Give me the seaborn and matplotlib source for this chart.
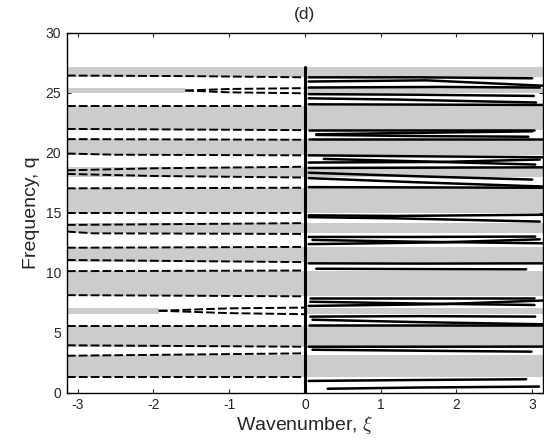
import numpy as np
import pandas as pd
import matplotlib
matplotlib.use("Agg")
import matplotlib.pyplot as plt
import seaborn as sns

PI = np.pi

# Stop bands (shaded over the full wavenumber range)
stop_lo = [26.35, 21.95, 19.85, 18.00, 15.00, 13.30, 10.90, 8.05, 3.85, 1.30]
stop_hi = [27.20, 23.95, 21.15, 18.80, 17.05, 14.15, 12.15, 10.20, 5.60, 3.20]

# Narrow bands shaded on the right half and on the left only up to a cut-off wavenumber
strip_lo = [24.97, 6.56]
strip_hi = [25.40, 7.11]
strip_xi_end = [-1.58, -1.93]

# Imaginary branches (left half, dashed): (xi, q) control points
dashed_curves = [
    [(-PI, 26.45), (-1.5, 26.40), (0.0, 26.30)],
    [(-1.58, 25.20), (-1.0, 25.33), (0.0, 25.40)],
    [(-1.58, 25.20), (-1.0, 25.05), (0.0, 24.97)],
    [(-PI, 23.95), (0.0, 23.95)],
    [(-PI, 22.00), (0.0, 21.90)],
    [(-PI, 21.15), (0.0, 21.10)],
    [(-PI, 19.95), (-2.5, 19.85), (0.0, 19.80)],
    [(-PI, 18.55), (-2.0, 18.72), (0.0, 18.85)],
    [(-PI, 18.25), (-2.0, 18.08), (0.0, 17.95)],
    [(-PI, 17.05), (0.0, 17.10)],
    [(-PI, 14.96), (0.0, 14.96)],
    [(-PI, 14.00), (0.0, 14.15)],
    [(-PI, 13.45), (-2.8, 13.30), (0.0, 13.25)],
    [(-PI, 12.10), (0.0, 12.17)],
    [(-PI, 11.08), (0.0, 10.90)],
    [(-PI, 10.15), (0.0, 10.20)],
    [(-PI, 8.15), (0.0, 8.05)],
    [(-1.93, 6.85), (-1.0, 7.05), (0.0, 7.11)],
    [(-1.93, 6.85), (-1.0, 6.65), (0.0, 6.56)],
    [(-PI, 5.60), (0.0, 5.60)],
    [(-PI, 3.97), (0.0, 3.85)],
    [(-PI, 3.10), (0.0, 3.30)],
    [(-PI, 1.30), (0.0, 1.30)],
]

# Real branches (right half, solid): (xi, q) control points
solid_curves = [
    [(0.05, 26.30), (1.5, 26.30), (3.00, 26.22)],
    [(0.05, 25.95), (1.6, 26.05), (3.14, 25.60)],
    [(0.05, 25.45), (1.8, 25.50), (3.10, 25.45)],
    [(0.05, 24.90), (1.5, 24.85), (3.02, 24.75)],
    [(0.05, 24.55), (1.2, 24.45), (3.05, 24.20)],
    [(0.05, 24.05), (3.14, 24.00)],
    [(0.05, 21.90), (3.02, 21.90)],
    [(0.15, 21.55), (1.2, 21.65), (3.00, 21.80)],
    [(0.15, 21.50), (1.6, 21.40), (2.95, 21.35)],
    [(0.05, 21.18), (3.14, 21.18)],
    [(0.05, 19.80), (1.5, 19.72), (3.14, 19.64)],
    [(0.25, 19.50), (1.5, 19.30), (3.04, 19.03)],
    [(0.05, 19.20), (1.8, 19.25), (3.10, 19.45)],
    [(0.05, 18.75), (3.14, 18.80)],
    [(0.05, 18.35), (1.5, 18.05), (3.00, 17.78)],
    [(0.05, 17.90), (1.5, 17.55), (3.14, 17.20)],
    [(0.05, 17.15), (3.14, 17.10)],
    [(0.05, 14.80), (1.2, 14.75), (3.14, 14.85)],
    [(0.05, 14.65), (1.2, 14.55), (3.10, 14.28)],
    [(0.05, 13.00), (1.5, 13.00), (3.04, 13.03)],
    [(0.10, 12.75), (1.5, 12.60), (3.14, 12.47)],
    [(0.05, 12.40), (1.8, 12.55), (3.10, 12.80)],
    [(0.05, 10.80), (1.5, 10.78), (3.14, 10.80)],
    [(0.15, 10.35), (1.5, 10.32), (2.92, 10.30)],
    [(0.07, 7.90), (1.5, 7.90), (3.03, 7.90)],
    [(0.07, 7.60), (1.5, 7.45), (3.03, 7.33)],
    [(0.05, 7.25), (1.8, 7.40), (3.14, 7.70)],
    [(0.07, 6.36), (1.5, 6.40), (3.04, 6.36)],
    [(0.10, 6.10), (1.5, 5.90), (3.14, 5.72)],
    [(0.05, 5.70), (3.14, 5.70)],
    [(0.05, 3.85), (1.5, 3.85), (3.14, 3.86)],
    [(0.10, 3.60), (1.5, 3.52), (2.99, 3.44)],
    [(0.05, 1.00), (1.5, 1.08), (2.92, 1.14)],
    [(0.30, 0.35), (1.5, 0.45), (3.09, 0.53)],
]

x_ticks = [-3, -2, -1, 0, 1, 2, 3]
y_ticks = [0, 5, 10, 15, 20, 25, 30]


def to_frame(curves):
    rows = []
    for i, pts in enumerate(curves):
        for j, (xi, q) in enumerate(pts):
            rows.append({"curve": i, "order": j, "xi": xi, "q": q})
    return pd.DataFrame(rows)


sns.set_style("ticks")
plt.rcParams["font.family"] = ["Liberation Sans", "DejaVu Sans"]
plt.rcParams["mathtext.fontset"] = "cm"

fig = plt.figure(figsize=(5.44, 4.45), dpi=100)
ax = fig.add_axes([0.123, 0.117, 0.875, 0.809])

gray = "#cccccc"
for lo, hi in zip(stop_lo, stop_hi):
    ax.fill_between([-PI, PI], lo, hi, color=gray, lw=0, zorder=1)
for lo, hi, xe in zip(strip_lo, strip_hi, strip_xi_end):
    ax.fill_between([-PI, xe], lo, hi, color=gray, lw=0, zorder=1)
    ax.fill_between([0, PI], lo, hi, color=gray, lw=0, zorder=1)

df_dash = to_frame(dashed_curves)
df_solid = to_frame(solid_curves)

sns.lineplot(data=df_dash, x="xi", y="q", units="curve", estimator=None,
             sort=False, color="black", lw=1.4, ax=ax, zorder=3)
for line in ax.get_lines():
    line.set_dashes([4.5, 1.6])

sns.lineplot(data=df_solid, x="xi", y="q", units="curve", estimator=None,
             sort=False, color="black", lw=1.8, ax=ax, zorder=3)

ax.plot([0, 0], [0, 27.2], color="black", lw=2.2, zorder=4)

ax.set_xlim(-PI, PI)
ax.set_ylim(0, 30)
ax.set_xticks(x_ticks)
ax.set_yticks(y_ticks)
ax.set_xticklabels([str(t) for t in x_ticks])
ax.set_yticklabels([str(t) for t in y_ticks])
ax.tick_params(direction="in", length=3, width=0.8, labelsize=10,
               top=True, right=True, pad=4)
for sp in ax.spines.values():
    sp.set_visible(True)
    sp.set_linewidth(1.0)
    sp.set_color("black")

ax.set_xlabel(r"Wavenumber, $\xi$", fontsize=14, labelpad=1)
ax.set_ylabel("Frequency, q", fontsize=14, labelpad=4)
ax.set_title("(d)", fontsize=12.5, pad=10)

fig.savefig("out.png", dpi=100, facecolor="white")
